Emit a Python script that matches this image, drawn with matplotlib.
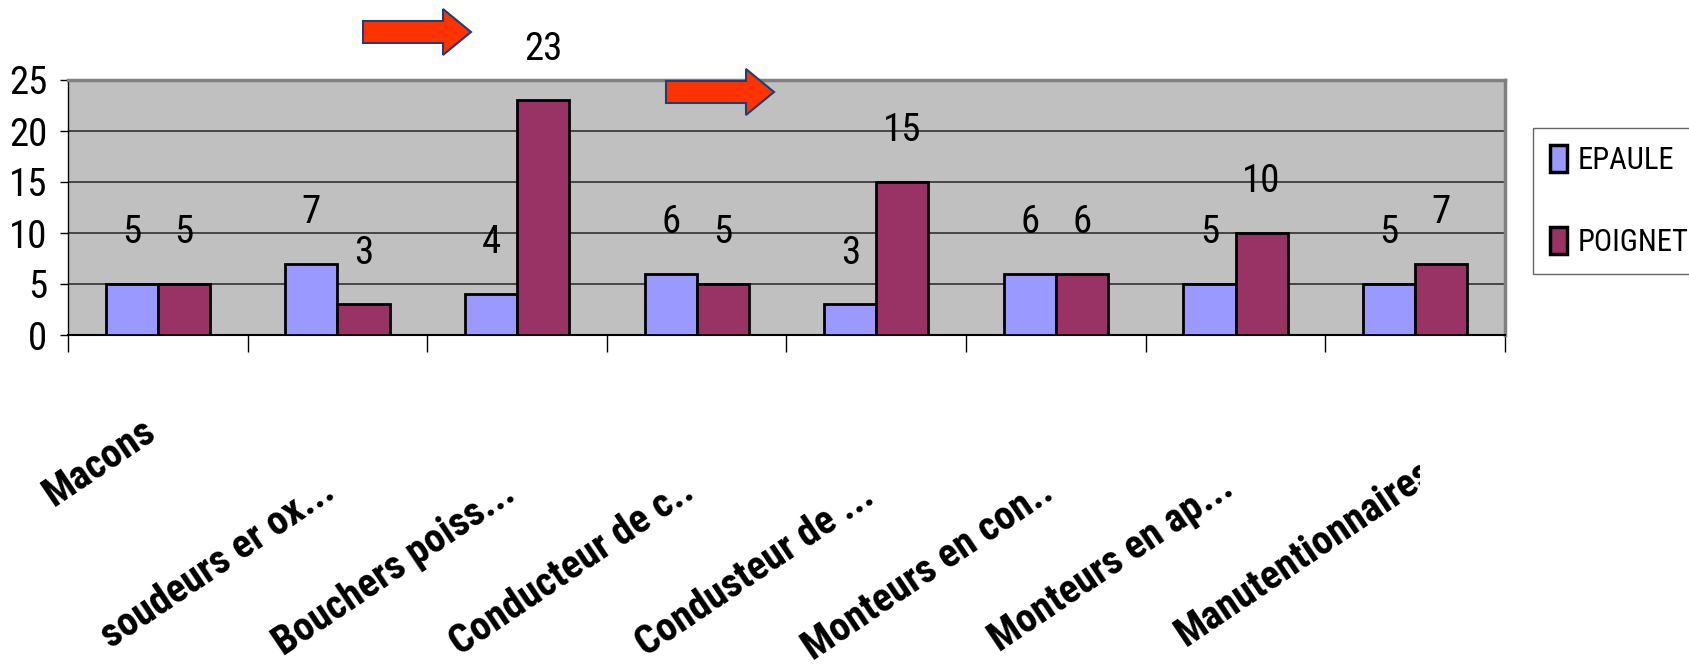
import matplotlib
matplotlib.use("Agg")
import matplotlib.pyplot as plt
import numpy as np
from matplotlib.patches import Polygon, Patch
from matplotlib.transforms import Bbox

plt.rcParams['font.family'] = ['Roboto Condensed', 'DejaVu Sans']

# effectifs par metier
metiers = ['Macons', 'soudeurs er ox...', 'Bouchers poiss...', 'Conducteur de c..',
           'Condusteur de ...', 'Monteurs en con..', 'Monteurs en ap...', 'Manutentionnaires']
epaule = [5, 7, 4, 6, 3, 6, 5, 5]
poignet = [5, 3, 23, 5, 15, 6, 10, 7]
series_names = ['EPAULE', 'POIGNET']
yticks = [0, 5, 10, 15, 20, 25]

W, H = 1690, 670
fig = plt.figure(figsize=(W / 100, H / 100), dpi=100)
ax = fig.add_axes([68 / W, 1 - 335 / H, (1505 - 68) / W, (335 - 80) / H])

c_ep = '#9999FF'
c_po = '#993366'
x = np.arange(len(metiers)) + 0.5
bw = 0.29

ax.bar(x - bw / 2, epaule, bw, color=c_ep, edgecolor='black', linewidth=2, zorder=3)
ax.bar(x + bw / 2, poignet, bw, color=c_po, edgecolor='black', linewidth=2, zorder=3)

for xi, v in zip(x - bw / 2, epaule):
    ax.annotate(str(v), (xi, v), xytext=(0, 37), textcoords='offset points',
                ha='center', va='center', fontsize=28, zorder=4)
for xi, v in zip(x + bw / 2, poignet):
    ax.annotate(str(v), (xi, v), xytext=(0, 37), textcoords='offset points',
                ha='center', va='center', fontsize=28, zorder=4, annotation_clip=False)

ax.set_facecolor('#C0C0C0')
ax.set_xlim(0, len(metiers))
ax.set_ylim(0, 25)
ax.set_yticks(yticks)
ax.set_yticklabels([str(t) for t in yticks])
ax.yaxis.grid(True, color='#303030', linewidth=1.2, zorder=1)
ax.set_axisbelow(True)

ax.set_xticks(np.arange(len(metiers) + 1))
ax.set_xticklabels([])
ax.tick_params(axis='x', length=12, width=1, color='black', direction='out')
ax.tick_params(axis='y', length=6, width=1, color='black', direction='out',
               labelsize=28, pad=9)

for s in ['top', 'right']:
    ax.spines[s].set_color('#808080')
    ax.spines[s].set_linewidth(2.5)
ax.spines['left'].set_color('black')
ax.spines['left'].set_linewidth(1)
ax.spines['bottom'].set_color('black')
ax.spines['bottom'].set_linewidth(1.5)

# etiquettes de categories inclinees
label_y = [-0.40, -0.635, -0.64, -0.635, -0.655, -0.635, -0.62, -0.56]
label_dx = [0, 0, 0, 0, 0, 0, 0, 0.12]
trans = ax.get_xaxis_transform()
for xi, name, yy, dx in zip(x, metiers, label_y, label_dx):
    t = ax.text(xi + dx, yy, name, transform=trans, rotation=34, rotation_mode='anchor',
                ha='right', va='baseline', fontsize=29, fontweight='bold', clip_on=False)
    if name == 'Manutentionnaires':
        t.set_clip_box(Bbox.from_extents(0, 0, 1420, H))
        t.set_clip_on(True)

# legende (cadre qui deborde a droite)
handles = [Patch(facecolor=c_ep, edgecolor='black', linewidth=2.5),
           Patch(facecolor=c_po, edgecolor='black', linewidth=2.5)]
leg = fig.legend(handles, series_names, loc='upper left',
                 bbox_to_anchor=(1533 / W, 1 - 128 / H), bbox_transform=fig.transFigure,
                 fontsize=22, frameon=True, fancybox=False, edgecolor='#404040',
                 handlelength=0.55, handleheight=1.0, handletextpad=0.35,
                 labelspacing=1.7, borderpad=0.55, borderaxespad=0)
leg.get_frame().set_linewidth(1)
leg.get_frame().set_width(200)


# fleches rouges
def fleche(x0, yc, length=108, head=28, body=11, half=23):
    pts = [(x0, yc - body), (x0 + length - head, yc - body), (x0 + length - head, yc - half),
           (x0 + length, yc), (x0 + length - head, yc + half), (x0 + length - head, yc + body),
           (x0, yc + body)]
    pts = [(px / W, 1 - py / H) for px, py in pts]
    fig.patches.append(Polygon(pts, closed=True, facecolor='#FF3300', edgecolor='#1F3F6F',
                               linewidth=1.5, transform=fig.transFigure, figure=fig))


fleche(363, 32)
fleche(666, 92)

fig.savefig('out.png', dpi=100)
